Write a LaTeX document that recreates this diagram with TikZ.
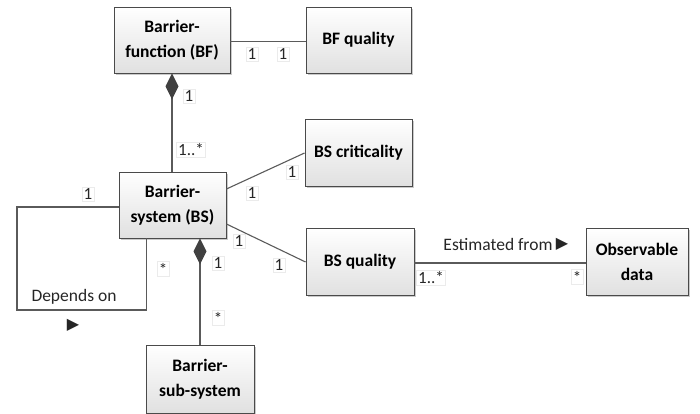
\documentclass[tikz,border=0pt]{standalone}
\usepackage{fontspec}
\setmainfont{Carlito}
\newfontfamily\symfont{DejaVu Sans}
\usetikzlibrary{shadows,arrows.meta,positioning}
\definecolor{edgec}{HTML}{5A5A5A}
\definecolor{boxc}{HTML}{4A4A4A}
\tikzset{
  cls/.style={draw=boxc, line width=0.9pt, top color=white, bottom color=black!12,
    align=center, font=\bfseries\fontsize{17.5}{25}\selectfont, inner sep=2pt,
    drop shadow={shadow xshift=2pt, shadow yshift=-2pt, opacity=0.35, fill=black!60}},
  conn/.style={draw=edgec, line width=1.1pt},
  mult/.style={draw=black!8, fill=white, font=\fontsize{17}{20}\selectfont, inner sep=1.5pt, text=black!85},
  lbl/.style={font=\fontsize{17.5}{20}\selectfont, inner sep=0pt, text=black!85},
  tri/.style={font=\symfont\fontsize{16}{16}\selectfont},
  dia/.style={{Diamond[length=26pt,width=13pt,fill=black!75,color=black!75]}-}
}
\begin{document}
\begin{tikzpicture}[x=1pt,y=-1pt]
\useasboundingbox (0,0) rectangle (700,414);
% classes
\node[cls, minimum width=116pt, minimum height=66pt] (bf) at (172,40) {Barrier-\\function (BF)};
\node[cls, minimum width=105pt, minimum height=66pt] (bfq) at (358.5,40) {BF quality};
\node[cls, minimum width=107pt, minimum height=66pt] (bs) at (172.5,205) {Barrier-\\system (BS)};
\node[cls, minimum width=107pt, minimum height=67pt] (bsc) at (358.5,152.5) {BS criticality};
\node[cls, minimum width=108pt, minimum height=67pt] (bsq) at (360,261.5) {BS quality};
\node[cls, minimum width=102pt, minimum height=67pt] (od) at (637,261.5) {Observable\\data};
\node[cls, minimum width=108pt, minimum height=68pt] (sub) at (200,379) {Barrier-\\sub-system};
% connectors
\draw[conn] (bf.east |- 0,41.5) -- (bfq.west |- 0,41.5);
\draw[conn, dia] (bf.south) -- (bf.south |- bs.north);
\draw[conn] (bs.east |- 0,189) -- (bsc.west |- 0,153);
\draw[conn] (bs.east |- 0,224) -- (bsq.west |- 0,262);
\draw[conn, dia] (sub.north |- bs.south) -- (sub.north);
\draw[conn] (bsq.east |- 0,263) -- (od.west |- 0,263);
\coordinate (l1) at (17,207);
\coordinate (l2) at (17,310);
\coordinate (l3) at (146.5,310);
\draw[conn] (bs.west |- 0,207) -- (l1) -- (l2) -- (l3) -- (l3 |- bs.south);
% multiplicities
\node[mult] (m1) at (252,54) {1};
\node[mult] (m2) at (283,54) {1};
\node[mult] (m3) at (189,96) {1};
\node[mult] (m4) at (191,150) {1..*};
\node[mult] (m5) at (252,193) {1};
\node[mult] (m6) at (292,172) {1};
\node[mult] (m7) at (239,241) {1};
\node[mult] (m8) at (279,265) {1};
\node[mult] (m9) at (218,263) {1};
\node[mult] (m10) at (218,318) {*};
\node[mult] (m11) at (88,194) {1};
\node[mult] (m12) at (163,269) {*};
\node[mult] (m13) at (431,278) {1..*};
\node[mult] (m14) at (577,277) {*};
% association labels
\node[lbl] (dep) at (74,297) {Depends on};
\node[lbl, tri] (deptri) at (73,325) {▶};
\node[lbl] (est) at (498,244) {Estimated from};
\node[lbl, tri, right=3pt of est] (esttri) {▶};
\end{tikzpicture}
\end{document}
